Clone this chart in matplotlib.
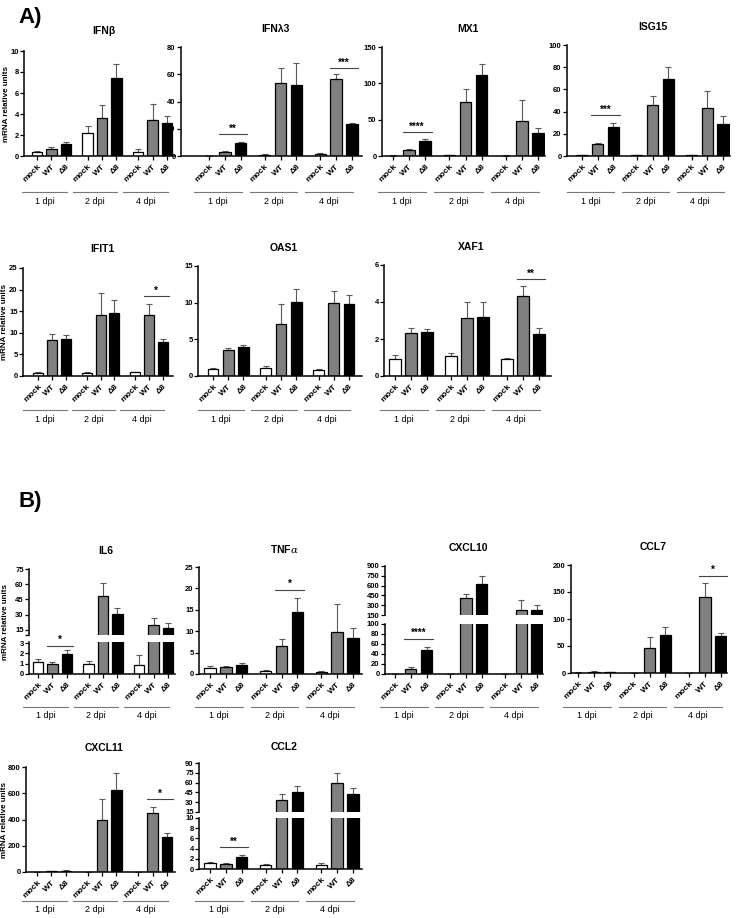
import matplotlib
matplotlib.use('Agg')
import matplotlib.pyplot as plt
from matplotlib.transforms import blended_transform_factory
from matplotlib.lines import Line2D
import numpy as np

plt.rcParams['font.family'] = ['Liberation Sans', 'DejaVu Sans']
plt.rcParams['mathtext.fontset'] = 'dejavuserif'

W, H = 736, 918
fig = plt.figure(figsize=(W / 100, H / 100), dpi=100)

conditions = ['mock', 'WT', 'Δ8']
timepoints = ['1 dpi', '2 dpi', '4 dpi']
bar_colors = ['white', '#808080', 'black']

# order: 1 dpi (mock, WT, Δ8), 2 dpi (mock, WT, Δ8), 4 dpi (mock, WT, Δ8)
IFNB_mean = [0.35, 0.65, 1.15, 2.15, 3.65, 7.4, 0.4, 3.4, 3.1]
IFNB_err = [0.12, 0.25, 0.15, 0.75, 1.2, 1.35, 0.3, 1.55, 0.75]
IFNL3_mean = [0.2, 2.8, 9.6, 1.0, 53.8, 52.0, 1.5, 56.5, 23.3]
IFNL3_err = [0.1, 1.2, 0.8, 0.3, 11.0, 16.5, 0.6, 3.5, 1.2]
MX1_mean = [0.5, 8.5, 21.0, 1.0, 75.0, 111.0, 0.5, 47.5, 32.0]
MX1_err = [0.3, 1.5, 2.5, 0.5, 17.0, 16.0, 0.3, 29.0, 7.0]
ISG15_mean = [0.5, 11.0, 26.5, 0.5, 45.5, 69.5, 0.5, 43.0, 28.5]
ISG15_err = [0.3, 1.0, 3.5, 0.3, 9.0, 11.0, 0.3, 16.0, 7.5]
IFIT1_mean = [0.8, 8.3, 8.6, 0.8, 14.1, 14.5, 0.9, 14.2, 7.9]
IFIT1_err = [0.2, 1.5, 0.8, 0.1, 5.2, 3.2, 0.1, 2.5, 0.7]
OAS1_mean = [0.9, 3.5, 4.0, 1.1, 7.1, 10.1, 0.8, 10.0, 9.8]
OAS1_err = [0.15, 0.3, 0.2, 0.2, 2.7, 1.8, 0.1, 1.6, 1.3]
XAF1_mean = [0.92, 2.3, 2.37, 1.07, 3.12, 3.2, 0.9, 4.35, 2.28]
XAF1_err = [0.2, 0.3, 0.15, 0.17, 0.9, 0.8, 0.1, 0.5, 0.33]
IL6_mean = [1.15, 1.0, 1.9, 0.95, 48.0, 30.6, 0.85, 20.0, 17.0]
IL6_err = [0.3, 0.15, 0.4, 0.35, 13.5, 6.0, 0.95, 7.0, 4.5]
TNFA_mean = [1.4, 1.6, 2.2, 0.7, 6.6, 14.5, 0.5, 9.7, 8.4]
TNFA_err = [0.4, 0.3, 0.3, 0.15, 1.6, 3.2, 0.15, 6.7, 2.4]
CXCL10_mean = [0.5, 11.0, 48.0, 0.5, 404.0, 632.0, 0.2, 221.0, 221.0]
CXCL10_err = [0.5, 3.0, 6.0, 0.5, 70.0, 120.0, 0.2, 157.0, 81.0]
CCL7_mean = [0.5, 2.5, 1.5, 0.3, 46.0, 71.0, 0.3, 140.0, 69.0]
CCL7_err = [0.5, 1.5, 0.8, 0.3, 20.0, 15.0, 0.3, 26.0, 6.0]
CXCL11_mean = [0.5, 4.0, 10.0, 0.5, 400.0, 628.0, 0.5, 452.0, 268.0]
CXCL11_err = [0.5, 2.0, 4.0, 0.5, 155.0, 125.0, 0.5, 42.0, 30.0]
CCL2_mean = [1.15, 1.0, 2.4, 0.85, 34.0, 45.5, 0.8, 59.5, 43.0]
CCL2_err = [0.25, 0.2, 0.4, 0.1, 8.0, 8.8, 0.3, 15.3, 8.8]

G = 3.5
SPAN = 2 * G + 2
positions = [g * G + b for g in range(3) for b in range(3)]


def rng(a, b, s):
    return list(np.arange(a, b + s / 2, s))


panels = [
    dict(title='IFNβ', mean=IFNB_mean, err=IFNB_err, box=(24, 175, 37, 167), title_y=31,
         segs=[(51, 156, (0, 10), rng(0, 10, 2), None)], sigs=[], gl=192, ylab=7),
    dict(title='IFNλ3', mean=IFNL3_mean, err=IFNL3_err, box=(181, 362, 209, 352), title_y=29,
         segs=[(47, 156, (0, 80), rng(0, 80, 20), None)], sigs=[(0, 0, 15.8, '**'), (0, 2, 64.5, '***')], gl=192),
    dict(title='MX1', mean=MX1_mean, err=MX1_err, box=(382, 545, 393, 538), title_y=29,
         segs=[(47, 156, (0, 150), rng(0, 150, 50), None)], sigs=[(0, 0, 32.7, '****')], gl=192),
    dict(title='ISG15', mean=ISG15_mean, err=ISG15_err, box=(567, 730, 582, 723), title_y=27,
         segs=[(45, 156, (0, 100), rng(0, 100, 20), None)], sigs=[(0, 0, 36.9, '***')], gl=192),
    dict(title='IFIT1', mean=IFIT1_mean, err=IFIT1_err, box=(23, 173, 38, 163), title_y=249,
         segs=[(268, 376, (0, 25), rng(0, 25, 5), None)], sigs=[(0, 2, 18.5, '*')], gl=410, ylab=5),
    dict(title='OAS1', mean=OAS1_mean, err=OAS1_err, box=(198, 362, 213, 349), title_y=248,
         segs=[(266, 376, (0, 15), rng(0, 15, 5), None)], sigs=[], gl=410),
    dict(title='XAF1', mean=XAF1_mean, err=XAF1_err, box=(384, 551, 395, 539), title_y=247,
         segs=[(265, 376, (0, 6), rng(0, 6, 2), None)], sigs=[(0, 2, 5.24, '**')], gl=410),
    dict(title='IL6', mean=IL6_mean, err=IL6_err, box=(29, 175, 38, 168), title_y=551,
         segs=[(569, 635, (10, 75), [10, 15, 30, 45, 60, 75], ['', '15', '30', '45', '60', '75']),
               (642, 674, (0, 3.1), [0, 1, 2, 3], None)],
         sigs=[(1, 0, 2.75, '*')], gl=707, ylab=6),
    dict(title='TNF$\\alpha$', mean=TNFA_mean, err=TNFA_err, box=(199, 362, 210, 353), title_y=549,
         segs=[(567, 674, (0, 25), rng(0, 25, 5), None)], sigs=[(0, 1, 19.7, '*')], gl=707),
    dict(title='CXCL10', mean=CXCL10_mean, err=CXCL10_err, box=(385, 543, 395, 537), title_y=548,
         segs=[(566, 615, (150, 900), rng(150, 900, 150), None),
               (624, 674, (0, 100), rng(0, 100, 20), None)],
         sigs=[(1, 0, 70, '****')], gl=707),
    dict(title='CCL7', mean=CCL7_mean, err=CCL7_err, box=(571, 727, 578, 721), title_y=547,
         segs=[(565, 673, (0, 200), rng(0, 200, 50), None)], sigs=[(0, 2, 180, '*')], gl=707),
    dict(title='CXCL11', mean=CXCL11_mean, err=CXCL11_err, box=(26, 175, 37, 167), title_y=748,
         segs=[(767, 872, (0, 800), rng(0, 800, 200), None)], sigs=[(0, 2, 555, '*')], gl=901, ylab=5),
    dict(title='CCL2', mean=CCL2_mean, err=CCL2_err, box=(199, 362, 210, 353), title_y=747,
         segs=[(763, 812, (15, 90), rng(15, 90, 15), None),
               (818, 869, (0, 10), rng(0, 10, 2), None)],
         sigs=[(1, 0, 4.25, '**')], gl=901),
]


def fmt(v):
    return f'{v:g}'


for p in panels:
    left, right, x0, x8 = p['box']
    unit = (x8 - x0) / SPAN
    xlim = (-(x0 - left) / unit, SPAN + (right - x8) / unit)
    nseg = len(p['segs'])
    axes = []
    for i, (top, bottom, ylim, ticks, labels) in enumerate(p['segs']):
        ax = fig.add_axes([left / W, 1 - bottom / H, (right - left) / W, (bottom - top) / H])
        ax.set_xlim(*xlim)
        ax.set_ylim(*ylim)
        ax.errorbar(positions, p['mean'], yerr=[np.zeros(9), p['err']], fmt='none',
                    ecolor='#5a5a5a', elinewidth=0.8, capsize=2, capthick=0.8, zorder=1)
        ax.bar(positions, p['mean'], width=0.72, color=bar_colors * 3,
               edgecolor='black', linewidth=0.9, zorder=2)
        for s in ['top', 'right']:
            ax.spines[s].set_visible(False)
        ax.spines['left'].set_linewidth(1.1)
        ax.spines['bottom'].set_linewidth(1.1)
        ax.set_yticks(ticks)
        ax.set_yticklabels(labels if labels is not None else [fmt(t) for t in ticks],
                           fontsize=5.5, fontweight='bold')
        ax.tick_params(axis='y', length=3, width=0.9, pad=0.8)
        last = (i == nseg - 1)
        if last:
            ax.set_xticks(positions)
            ax.set_xticklabels(conditions * 3, rotation=45, ha='right',
                               rotation_mode='anchor', fontsize=6, fontweight='bold')
            ax.tick_params(axis='x', length=3, width=0.9, pad=2)
        else:
            ax.spines['bottom'].set_visible(False)
            ax.set_xticks([])
        axes.append(ax)

    # significance
    for seg_i, g, yv, stars in p['sigs']:
        ax = axes[seg_i]
        xa = positions[g * 3 + 1] - 0.4
        xb = positions[g * 3 + 2] + 0.4
        ax.plot([xa, xb], [yv, yv], color='#444444', lw=0.8, clip_on=False, zorder=3)
        ax.annotate(stars, xy=((xa + xb) / 2, yv), xytext=(0, 0.5), textcoords='offset points',
                    ha='center', va='bottom', fontsize=7, fontweight='bold', annotation_clip=False)

    # title
    fig.text((left + right) / 2 / W + 4 / W, 1 - p['title_y'] / H, p['title'],
             ha='center', va='center', fontsize=7.5, fontweight='bold')

    # group lines and labels
    axb = axes[-1]
    tr = blended_transform_factory(axb.transData, fig.transFigure)
    for g in range(3):
        xa = positions[g * 3] - 15 / unit
        xb = positions[g * 3 + 2] + 1 / unit
        ly = 1 - p['gl'] / H
        fig.add_artist(Line2D([xa, xb], [ly, ly], transform=tr, color='#777777', lw=0.8))
        fig.text((xa + xb) / 2, 1 - (p['gl'] + 9) / H, timepoints[g], transform=tr,
                 ha='center', va='center', fontsize=6.5)

    if 'ylab' in p:
        ytop = p['segs'][0][0]
        ybot = p['segs'][-1][1]
        fig.text(p['ylab'] / W, 1 - (ytop + ybot) / 2 / H, 'mRNA relative units',
                 rotation=90, ha='center', va='center', fontsize=5.8, fontweight='bold')

fig.text(18 / W, 1 - 17 / H, 'A)', ha='left', va='center', fontsize=16, fontweight='bold')
fig.text(18 / W, 1 - 502 / H, 'B)', ha='left', va='center', fontsize=16, fontweight='bold')

fig.savefig('out.png', dpi=100)
